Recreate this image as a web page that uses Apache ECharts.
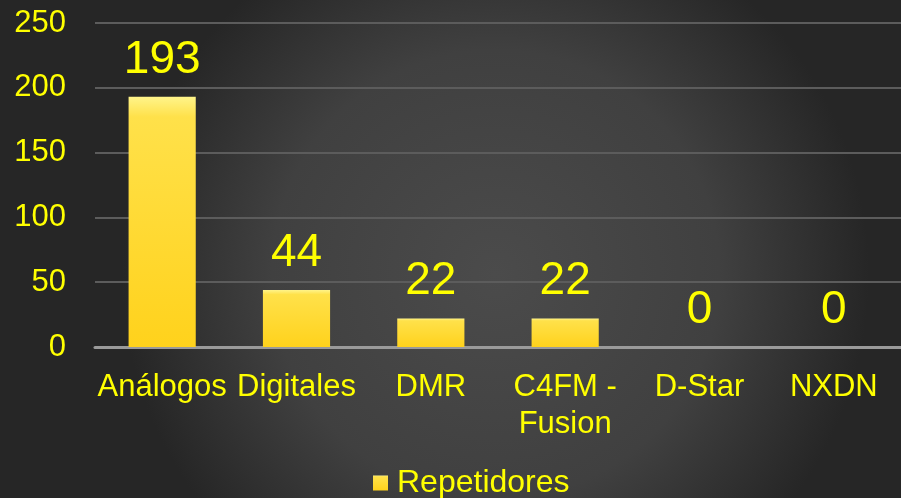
<!DOCTYPE html>
<html>
<head>
<meta charset="utf-8">
<script src="https://cdn.jsdelivr.net/npm/echarts@6/dist/echarts.min.js"></script>
<style>
  html, body { margin: 0; padding: 0; }
  #chart { width: 901px; height: 498px; }
</style>
</head>
<body>
<div id="chart"></div>
<script>
var categories = ['Análogos', 'Digitales', 'DMR', 'C4FM -\nFusion', 'D-Star', 'NXDN'];
var repetidores = [193, 44, 22, 22, 0, 0];
var yTicks = [0, 50, 100, 150, 200, 250];

var chart = echarts.init(document.getElementById('chart'));
var option = {
    backgroundColor: {
        type: 'radial', x: 0.55, y: 0.55, r: 0.75,
        colorStops: [
            {offset: 0, color: '#4b4b4b'},
            {offset: 0.6, color: '#404040'},
            {offset: 1, color: '#262626'}
        ]
    },
    textStyle: {fontFamily: 'Liberation Sans, Arial, sans-serif'},
    grid: {left: 95, right: 0, top: 23, bottom: 151, containLabel: false},
    legend: {
        data: ['Repetidores'],
        bottom: -6,
        left: 368,
        icon: 'rect',
        itemWidth: 15,
        itemHeight: 15,
        textStyle: {color: '#ffff00', fontSize: 32, padding: [0, 0, 0, 4]}
    },
    xAxis: {
        type: 'category',
        data: categories,
        axisLine: {lineStyle: {color: '#9a9a9a', width: 3}},
        axisTick: {show: false},
        axisLabel: {color: '#ffff00', fontSize: 31, margin: 22, lineHeight: 37, interval: 0}
    },
    yAxis: {
        type: 'value',
        min: yTicks[0],
        max: yTicks[yTicks.length - 1],
        interval: 50,
        axisLine: {show: false},
        axisTick: {show: false},
        splitLine: {lineStyle: {color: '#5c5c5c', width: 2}},
        axisLabel: {color: '#ffff00', fontSize: 31, margin: 29}
    },
    series: [{
        name: 'Repetidores',
        type: 'bar',
        data: repetidores,
        barWidth: '50%',
        itemStyle: {
            color: {
                type: 'linear', x: 0, y: 0, x2: 0, y2: 1,
                colorStops: [
                    {offset: 0, color: '#fff48a'},
                    {offset: 0.08, color: '#ffe14a'},
                    {offset: 1, color: '#ffd21c'}
                ]
            },
            borderWidth: 0
        },
        label: {
            show: true,
            position: 'top',
            distance: 14,
            color: '#ffff00',
            fontSize: 46
        }
    }]
};
chart.setOption(option);
window.onresize = chart.resize;
</script>
</body>
</html>
